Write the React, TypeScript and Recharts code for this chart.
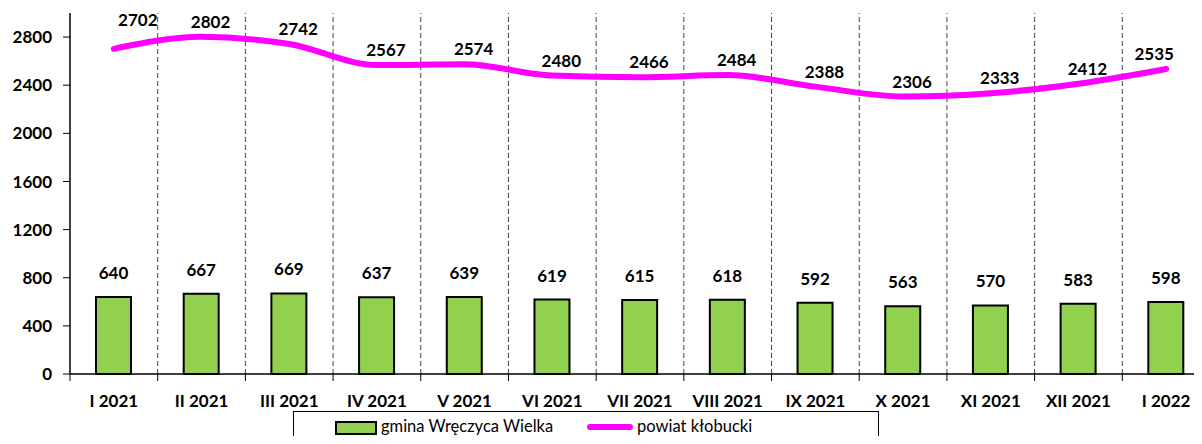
import { ComposedChart, Bar, Line, XAxis, YAxis, ReferenceLine, LabelList, Legend } from 'recharts'

const months = ['I 2021', 'II 2021', 'III 2021', 'IV 2021', 'V 2021', 'VI 2021', 'VII 2021', 'VIII 2021', 'IX 2021', 'X 2021', 'XI 2021', 'XII 2021', 'I 2022']
const gmina = [640, 667, 669, 637, 639, 619, 615, 618, 592, 563, 570, 583, 598]
const powiat = [2702, 2802, 2742, 2567, 2574, 2480, 2466, 2484, 2388, 2306, 2333, 2412, 2535]
const yTicks = [0, 400, 800, 1200, 1600, 2000, 2400, 2800]

const data = months.map((m, i) => ({ month: m, gmina: gmina[i], powiat: powiat[i] }))

const FONT = 'Lato, "DejaVu Sans", sans-serif'
const W = 1220
const H = 444
const margin = { top: 13, right: 10, left: 8, bottom: 40 }
const halfBand = (W - margin.left - margin.right - 62) / months.length / 2

function XTick(props: any) {
  const { x, y, payload } = props
  return (
    <g>
      <line x1={x - halfBand} x2={x - halfBand} y1={y - 8} y2={y - 1} stroke="#000" strokeWidth={1} />
      <text x={x} y={y + 18} textAnchor="middle" dominantBaseline="central" fontFamily={FONT} fontWeight="bold" fontSize={17} fill="#000">
        {payload.value}
      </text>
    </g>
  )
}

// labels sit above-right of the line, first one is pushed clear of the axis, last one to the left
function LineLabel(props: any) {
  const { x, y, value, index } = props
  let dx = 9
  let dy = -9
  if (index === 0) {
    dx = 24
    dy = -23
  } else if (index === months.length - 1) {
    dx = -12
  }
  return (
    <text x={x + dx} y={y + dy} textAnchor="middle" fontFamily={FONT} fontWeight="bold" fontSize={17} fill="#000">
      {value}
    </text>
  )
}

function LegendBox() {
  return (
    <div style={{ width: 584, height: 40, border: '1px solid #000', borderBottom: 'none', background: '#fff', position: 'relative', fontFamily: FONT, fontSize: 16.5, color: '#000' }}>
      <div style={{ position: 'absolute', left: 41, top: 9, width: 38, height: 10, background: '#92D050', border: '2px solid #000' }} />
      <div style={{ position: 'absolute', left: 87, top: 4 }}>gmina Wręczyca Wielka</div>
      <div style={{ position: 'absolute', left: 293, top: 12, width: 46, height: 6, background: '#FF00FF', borderRadius: 3 }} />
      <div style={{ position: 'absolute', left: 343, top: 4 }}>powiat kłobucki</div>
    </div>
  )
}

export default function App() {
  return (
    <div style={{ width: 1202, height: 444, overflow: 'hidden', margin: -8, background: '#fff' }}>
      <ComposedChart width={W} height={H} data={data} margin={margin}>
        <XAxis dataKey="month" axisLine={{ stroke: '#000', strokeWidth: 1.5 }} tickLine={false} tick={<XTick />} interval={0} />
        <YAxis
          domain={[0, 3000]}
          ticks={yTicks}
          width={62}
          axisLine={{ stroke: '#000', strokeWidth: 1.5 }}
          tickLine={{ stroke: '#000' }}
          tickSize={7}
          tickMargin={11}
          tick={{ fill: '#000', fontFamily: FONT, fontWeight: 'bold', fontSize: 17 }}
        />
        {months.slice(1).map((m) => (
          <ReferenceLine key={m} x={m} position="start" stroke="#444" strokeDasharray="5 3" />
        ))}
        <Bar dataKey="gmina" fill="#92D050" stroke="#000" strokeWidth={2} barSize={35} isAnimationActive={false}>
          <LabelList dataKey="gmina" position="top" offset={18} fill="#000" fontFamily={FONT} fontWeight="bold" fontSize={17} />
        </Bar>
        <Line dataKey="powiat" type="monotone" stroke="#FF00FF" strokeWidth={6} strokeLinecap="round" dot={false} isAnimationActive={false}>
          <LabelList dataKey="powiat" content={<LineLabel />} />
        </Line>
        <Legend
          layout="horizontal"
          verticalAlign="middle"
          align="center"
          content={<LegendBox />}
          wrapperStyle={{ position: 'absolute', left: 293, top: 411, width: 586, height: 40 }}
        />
      </ComposedChart>
    </div>
  )
}
